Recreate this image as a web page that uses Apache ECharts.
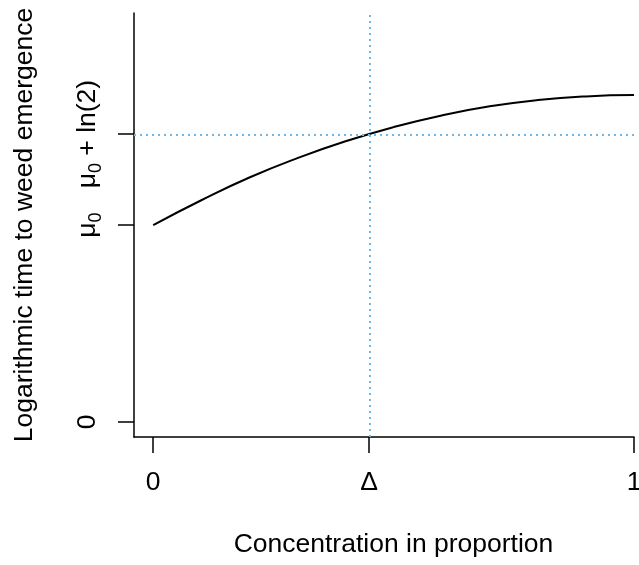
<!DOCTYPE html>
<html>
<head>
<meta charset="utf-8">
<script src="https://cdn.jsdelivr.net/npm/echarts@6/dist/echarts.min.js"></script>
<style>
html,body{margin:0;padding:0;background:#fff;}
#chart{width:639px;height:565px;}
</style>
</head>
<body>
<div id="chart"></div>
<script>
// Data
const concentration = [0, 0.1, 0.2, 0.3, 0.4, 0.5, 0.6, 0.7, 0.8, 0.9, 1.0];
const logTime = [1.5, 1.689, 1.862, 2.010, 2.138, 2.246, 2.335, 2.404, 2.452, 2.480, 2.49];
const delta = 0.449;
const mu0 = 1.5;
const mu0ln2 = 2.193;
const xTicks = [0, delta, 1];
const xTickLabels = ['0', 'Δ', '1'];
const yTicks = [0, mu0, mu0ln2];
const yTickLabels = ['0', '{m|μ}{s|0}', '{m|μ}{s|0}{m| + ln(2)}'];

const FONT = 'Liberation Sans, Arial, Helvetica, sans-serif';
const FS = 26.5;

function pick(ticks, labels, v) {
  for (let i = 0; i < ticks.length; i++) {
    if (Math.abs(ticks[i] - v) < 1e-6) return labels[i];
  }
  return '';
}

const chart = echarts.init(document.getElementById('chart'), null, {renderer: 'canvas'});
chart.setOption({
  animation: false,
  backgroundColor: '#ffffff',
  grid: {left: 134, right: 5, top: 13, bottom: 128, containLabel: false, outerBoundsMode: 'none'},
  xAxis: {
    type: 'value',
    min: -0.04,
    max: 1,
    name: 'Concentration in proportion',
    nameLocation: 'middle',
    nameGap: 94,
    nameTextStyle: {fontFamily: FONT, fontSize: FS, color: '#000', padding: [0, 0, 0, 19]},
    axisLine: {show: true, onZero: false, lineStyle: {color: '#000', width: 1.5}},
    axisTick: {show: true, length: 16, customValues: xTicks, lineStyle: {color: '#000', width: 1.5}},
    axisLabel: {
      show: true, margin: 32, customValues: xTicks,
      fontFamily: FONT, fontSize: FS, color: '#000',
      formatter: v => pick(xTicks, xTickLabels, v)
    },
    splitLine: {show: false}
  },
  yAxis: {
    type: 'value',
    min: -0.1142,
    max: 3.115,
    name: 'Logarithmic time to weed emergence',
    nameLocation: 'middle',
    nameGap: 96,
    nameTextStyle: {fontFamily: FONT, fontSize: FS, color: '#000'},
    axisLine: {show: true, onZero: false, lineStyle: {color: '#000', width: 1.5}},
    axisTick: {show: true, length: 16, customValues: yTicks, lineStyle: {color: '#000', width: 1.5}},
    axisLabel: {
      show: true, margin: 33, rotate: 90, customValues: yTicks,
      fontFamily: FONT, fontSize: FS, color: '#000',
      formatter: v => pick(yTicks, yTickLabels, v),
      rich: {
        m: {fontFamily: FONT, fontSize: FS, color: '#000', lineHeight: 30, verticalAlign: 'bottom'},
        s: {fontFamily: FONT, fontSize: 18, color: '#000', lineHeight: 6, verticalAlign: 'bottom', padding: [0, 0, -4, 0]}
      }
    },
    splitLine: {show: false}
  },
  series: [{
    type: 'line',
    data: concentration.map((c, i) => [c, logTime[i]]),
    smooth: true,
    showSymbol: false,
    lineStyle: {color: '#000', width: 2},
    itemStyle: {color: '#000'},
    silent: true,
    markLine: {
      silent: true,
      symbol: ['none', 'none'],
      label: {show: false},
      lineStyle: {color: '#6DB8EE', type: [2, 4], width: 2},
      data: [{xAxis: delta}, {yAxis: mu0ln2}]
    }
  }]
});
</script>
</body>
</html>
